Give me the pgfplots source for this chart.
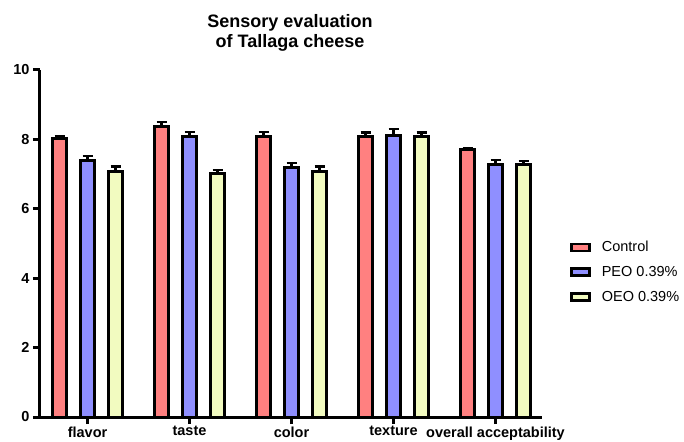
\documentclass[border=0pt]{standalone}
\usepackage{pgfplots}
\pgfplotsset{compat=1.18}
\usepackage{pgfplotstable}
\usepackage{fontspec}
\setmainfont{Liberation Sans}
\definecolor{cctrl}{RGB}{255,128,128}
\definecolor{cpeo}{RGB}{143,143,255}
\definecolor{coeo}{RGB}{242,251,192}
\pgfplotstableread{
x y e
0 8.02 0.08
1 8.38 0.13
2 8.09 0.13
3 8.08 0.12
4 7.72 0.04
}\ctrl
\pgfplotstableread{
x y e
0 7.40 0.12
1 8.09 0.13
2 7.19 0.12
3 8.10 0.19
4 7.29 0.12
}\peo
\pgfplotstableread{
x y e
0 7.08 0.14
1 7.03 0.09
2 7.08 0.14
3 8.08 0.12
4 7.27 0.10
}\oeo
\begin{document}
\begin{tikzpicture}
\begin{axis}[
  scale only axis, width=502pt, height=347pt,
  xmin=-0.466, xmax=4.456, ymin=0, ymax=10,
  axis x line*=bottom, axis y line*=left,
  axis line style={line width=3pt,-},
  ytick={0,2,...,10}, xtick={0,1,2,3,4},
  xticklabels={flavor,taste,color,texture,overall acceptability},
  tick align=outside, major tick length=7pt,
  tick style={line width=3pt,black},
  ticklabel style={font=\fontsize{14.5}{17}\selectfont\bfseries},
  xticklabel style={yshift=1pt},
  /pgf/number format/assume math mode=true,
  ybar, bar width=14pt,
  legend style={at={(1.05,0.418)}, anchor=west, draw=none, fill=none,
    font=\fontsize{14.5}{17}\selectfont, row sep=9pt,
    /tikz/every odd column/.append style={column sep=9pt}},
  legend cell align=left,
  clip=false,
  mylegend/.style={legend image code/.code={\draw[##1, line width=2.5pt] (0pt,-3.5pt) rectangle (18pt,3.5pt);}},
  myerr/.style={error bars/.cd, y dir=plus, y explicit,
    error bar style={line width=2.2pt, black},
    error mark options={rotate=90, mark size=5pt, line width=2.2pt, black}},
]
\addplot[fill=cctrl, draw=black, line width=3pt, bar shift=-28pt, mylegend, myerr]
  table[x=x, y=y, y error=e]{\ctrl};
\addplot[fill=cpeo, draw=black, line width=3pt, bar shift=0pt, mylegend, myerr]
  table[x=x, y=y, y error=e]{\peo};
\addplot[fill=coeo, draw=black, line width=3pt, bar shift=28pt, mylegend, myerr]
  table[x=x, y=y, y error=e]{\oeo};
\legend{Control, PEO 0.39\%, OEO 0.39\%}
\end{axis}
\node[align=center, font=\fontsize{18}{20}\selectfont\bfseries] at (250pt,384pt) {Sensory evaluation\\of Tallaga cheese};
\pgfresetboundingbox
\path[use as bounding box] (-40pt,-24pt) rectangle (644pt,417pt);
\end{tikzpicture}
\end{document}
